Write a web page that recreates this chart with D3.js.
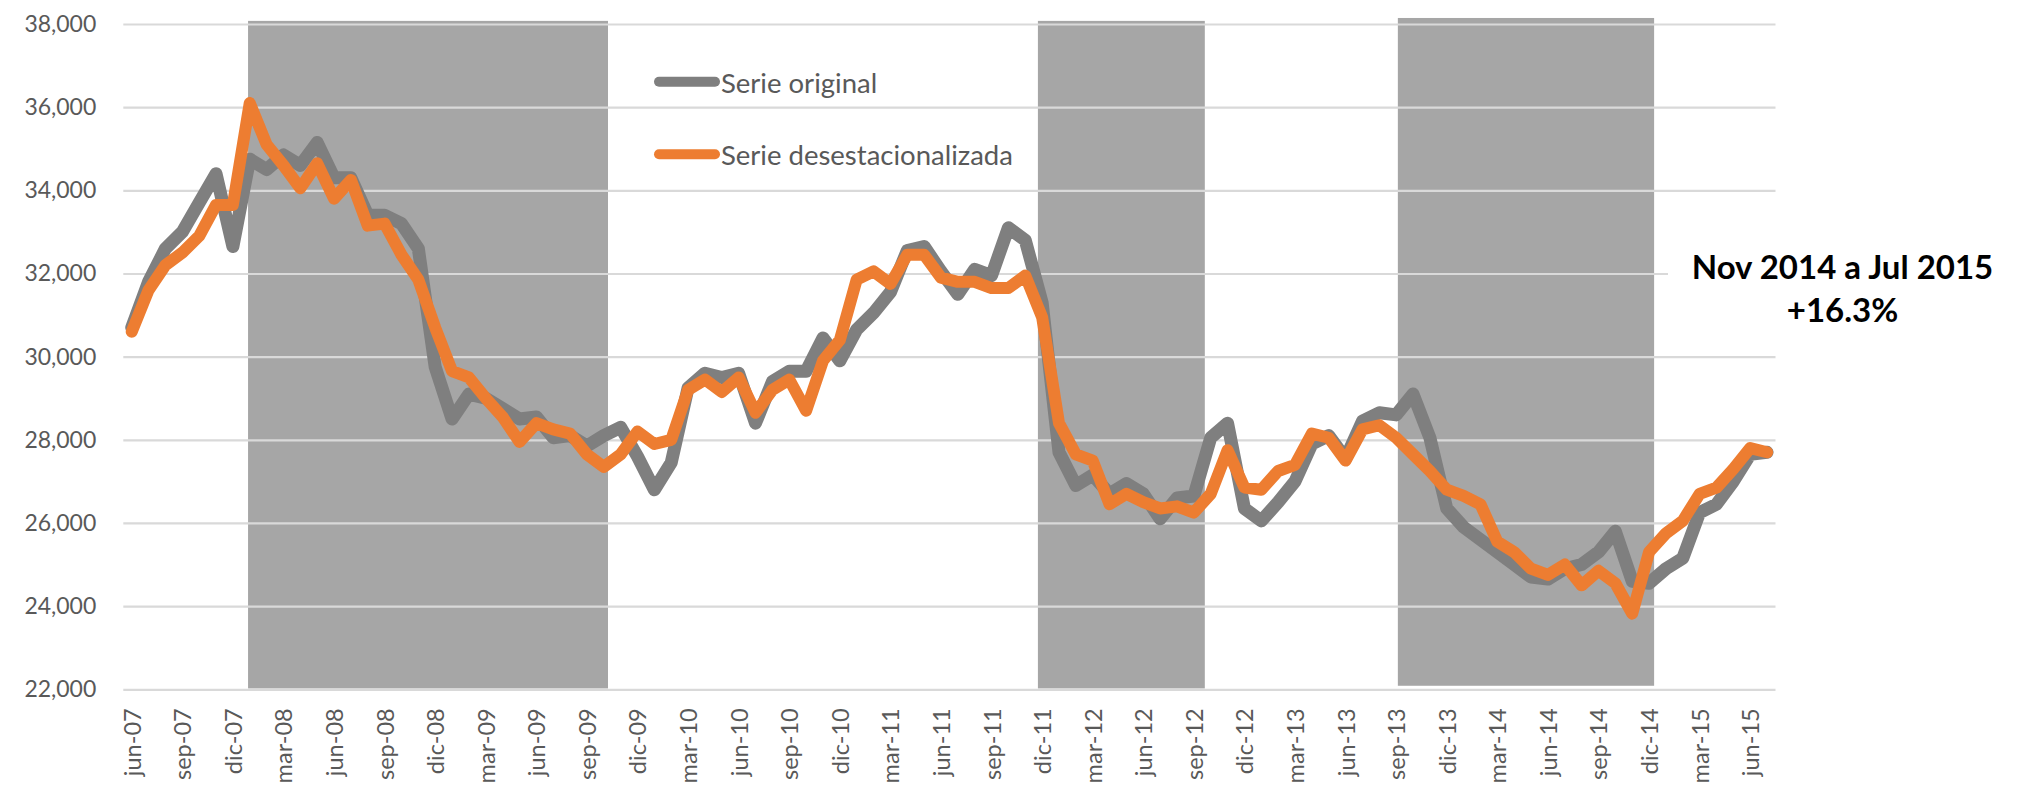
<!DOCTYPE html>
<html>
<head>
<meta charset="utf-8">
<script src="https://cdnjs.cloudflare.com/ajax/libs/d3/7.8.5/d3.min.js"></script>
<style>
  html, body { margin: 0; padding: 0; background: #ffffff; }
  svg { display: block; }
</style>
</head>
<body>
<svg id="chart" width="2024" height="793"></svg>
<script>
// ---------------- DATA ----------------
const categories = [
  "jun-07","jul-07","ago-07","sep-07","oct-07","nov-07","dic-07",
  "ene-08","feb-08","mar-08","abr-08","may-08","jun-08","jul-08","ago-08","sep-08","oct-08","nov-08","dic-08",
  "ene-09","feb-09","mar-09","abr-09","may-09","jun-09","jul-09","ago-09","sep-09","oct-09","nov-09","dic-09",
  "ene-10","feb-10","mar-10","abr-10","may-10","jun-10","jul-10","ago-10","sep-10","oct-10","nov-10","dic-10",
  "ene-11","feb-11","mar-11","abr-11","may-11","jun-11","jul-11","ago-11","sep-11","oct-11","nov-11","dic-11",
  "ene-12","feb-12","mar-12","abr-12","may-12","jun-12","jul-12","ago-12","sep-12","oct-12","nov-12","dic-12",
  "ene-13","feb-13","mar-13","abr-13","may-13","jun-13","jul-13","ago-13","sep-13","oct-13","nov-13","dic-13",
  "ene-14","feb-14","mar-14","abr-14","may-14","jun-14","jul-14","ago-14","sep-14","oct-14","nov-14","dic-14",
  "ene-15","feb-15","mar-15","abr-15","may-15","jun-15","jul-15"
];

const tickLabels = [
  "jun-07","sep-07","dic-07","mar-08","jun-08","sep-08","dic-08","mar-09","jun-09","sep-09","dic-09",
  "mar-10","jun-10","sep-10","dic-10","mar-11","jun-11","sep-11","dic-11","mar-12","jun-12","sep-12",
  "dic-12","mar-13","jun-13","sep-13","dic-13","mar-14","jun-14","sep-14","dic-14","mar-15","jun-15"
];

const yTicks = [22000, 24000, 26000, 28000, 30000, 32000, 34000, 36000, 38000];

const serieOriginal = [
  30700, 31800, 32600, 33000, 33700, 34400, 32650,
  34750, 34500, 34850, 34600, 35150, 34300, 34300, 33400, 33400, 33200, 32600, 29750,
  28500, 29100, 29000, 28750, 28500, 28550, 28050, 28100, 27850, 28100, 28300, 27600,
  26800, 27450, 29250, 29600, 29500, 29600, 28400, 29400, 29650, 29650, 30450, 29900,
  30650, 31050, 31550, 32550, 32650, 32050, 31500, 32100, 31950, 33100, 32800, 31300,
  27700, 26900, 27150, 26700, 26950, 26700, 26100, 26600, 26650, 28050, 28400, 26350,
  26050, 26500, 27000, 27900, 28100, 27550, 28450, 28650, 28600, 29100, 28050, 26350,
  25900, 25600, 25300, 25000, 24700, 24650, 24900, 25000, 25300, 25800, 24600, 24550,
  24900, 25150, 26250, 26450, 27000, 27650, 27700
];

const serieDesestacionalizada = [
  30600, 31600, 32200, 32500, 32900, 33650, 33650,
  36100, 35100, 34600, 34050, 34650, 33800, 34250, 33150, 33200, 32450, 31850, 30700,
  29650, 29500, 29000, 28550, 27950, 28400, 28250, 28150, 27650, 27350, 27650, 28200,
  27900, 28000, 29200, 29450, 29150, 29500, 28650, 29200, 29450, 28700, 29900, 30400,
  31850, 32050, 31750, 32450, 32450, 31900, 31800, 31800, 31650, 31650, 31950, 30950,
  28400, 27650, 27500, 26450, 26700, 26500, 26350, 26400, 26250, 26700, 27750, 26850,
  26800, 27250, 27400, 28150, 28050, 27500, 28250, 28350, 28050, 27650, 27250, 26800,
  26650, 26450, 25550, 25300, 24900, 24750, 25000, 24500, 24850, 24550, 23820, 25300,
  25750, 26050, 26700, 26850, 27300, 27800, 27700
];

// shaded periods, in month offsets from jun-07, with their value extent
const periodStart = [6.9, 53.75, 75.1];
const periodEnd   = [28.25, 63.65, 90.3];
const periodLow   = [22020, 22020, 22085];
const periodHigh  = [38075, 38075, 38145];

const seriesNames = ["Serie original", "Serie desestacionalizada"];
const annotationLines = ["Nov 2014 a Jul 2015", "+16.3%"];

// ---------------- CHART ----------------
(function () {
const svg = d3.select("#chart");
const plotLeft = 123.3, plotRight = 1775.5, plotTop = 24, plotBottom = 689.3;
const gray = "#7f7f7f", orange = "#ed7d31", bandColor = "#a6a6a6",
      gridColor = "#d9d9d9", textColor = "#595959";
const font = "Lato, 'Open Sans', 'Noto Sans', sans-serif";

const x = d3.scalePoint().domain(categories).range([plotLeft, plotRight]).padding(0.5);
const xi = i => x(categories[0]) + i * x.step();
const y = d3.scaleLinear().domain([22000, 38000]).range([plotBottom, plotTop]);

// bands
svg.append("g").selectAll("rect")
  .data(periodStart.map((s, k) => ({s, e: periodEnd[k], lo: periodLow[k], hi: periodHigh[k]})))
  .join("rect")
  .attr("x", d => xi(d.s))
  .attr("width", d => xi(d.e) - xi(d.s))
  .attr("y", d => y(d.hi))
  .attr("height", d => y(d.lo) - y(d.hi))
  .attr("fill", bandColor);

// y axis with gridlines
const yAxis = svg.append("g")
  .attr("transform", `translate(${plotLeft},0)`)
  .call(d3.axisLeft(y).tickValues(yTicks).tickSize(-(plotRight - plotLeft)).tickPadding(27)
        .tickFormat(d3.format(",")));
yAxis.select(".domain").remove();
yAxis.selectAll(".tick line").attr("stroke", gridColor).attr("stroke-width", 2.2);
yAxis.selectAll(".tick text")
  .attr("fill", textColor).style("font-family", font).style("font-size", "23px");

// x axis
const xAxis = svg.append("g")
  .attr("transform", `translate(0,${plotBottom})`)
  .call(d3.axisBottom(x).tickValues(tickLabels).tickSize(0));
xAxis.select(".domain").remove();
xAxis.selectAll(".tick text")
  .attr("transform", "rotate(-90)")
  .attr("x", -19).attr("y", 0).attr("dy", "0.36em")
  .attr("text-anchor", "end")
  .attr("fill", textColor).style("font-family", font).style("font-size", "23.5px");

// lines
const line = d3.line().x((d, i) => x(categories[i])).y(d => y(d));
svg.append("path").datum(serieOriginal)
  .attr("d", line).attr("fill", "none").attr("stroke", gray)
  .attr("stroke-width", 13).attr("stroke-linejoin", "round").attr("stroke-linecap", "round");
svg.append("path").datum(serieDesestacionalizada)
  .attr("d", line).attr("fill", "none").attr("stroke", orange)
  .attr("stroke-width", 12).attr("stroke-linejoin", "round").attr("stroke-linecap", "round");

// legend
const legendColors = [gray, orange];
const legendY = [81.7, 154.3];
const lg = svg.append("g");
seriesNames.forEach((name, k) => {
  lg.append("line").attr("x1", 659).attr("x2", 715)
    .attr("y1", legendY[k]).attr("y2", legendY[k])
    .attr("stroke", legendColors[k]).attr("stroke-width", 10).attr("stroke-linecap", "round");
  lg.append("text").attr("x", 721).attr("y", legendY[k] + 11)
    .attr("fill", textColor).style("font-family", font).style("font-size", "27.5px")
    .text(name);
});

// annotation
svg.append("rect").attr("x", 1668).attr("y", 245).attr("width", 356).attr("height", 88).attr("fill", "#ffffff");
const ann = svg.append("text").attr("text-anchor", "middle")
  .style("font-family", font).style("font-size", "33px").style("font-weight", "bold").attr("fill", "#000000");
annotationLines.forEach((t, k) => {
  ann.append("tspan").attr("x", 1842.5).attr("y", 279 + k * 43.4).text(t);
});
})();
</script>
</body>
</html>
